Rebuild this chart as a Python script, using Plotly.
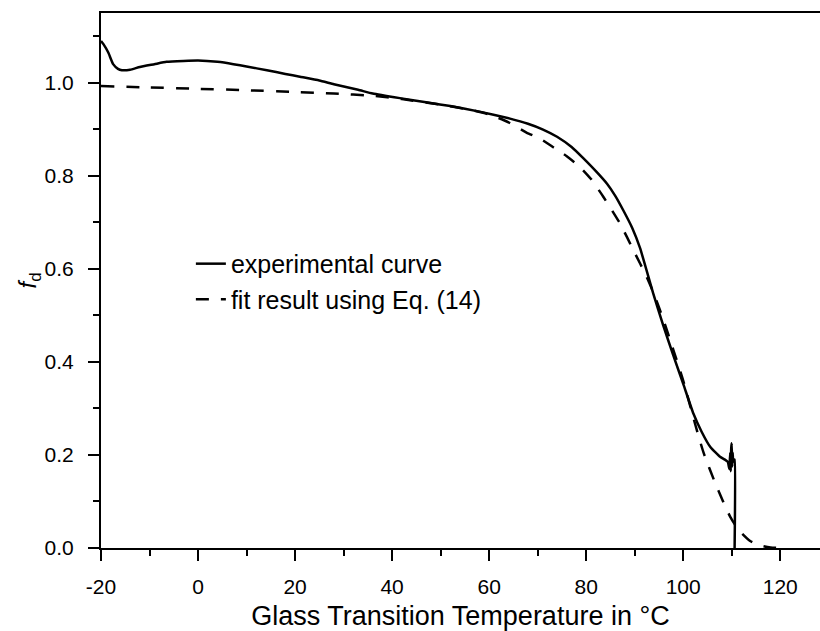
import plotly.graph_objects as go

# Experimental curve (solid)
x_exp = [-20, -19.5, -18.5, -17.5, -16.5, -15.7, -14, -12, -9, -6.5, -3, 0, 4, 7.3, 10,
         14.2, 18, 21, 25, 28, 33, 36, 41.6, 47, 52, 58, 64.3, 68, 71, 74, 77, 79.4,
         82, 84.3, 86, 87.7, 89.5, 91.1, 93.8, 95.9, 98, 100.1, 102.1, 103.8, 105.6,
         107.6, 108.6, 109.2, 109.5, 109.7, 109.8, 109.9, 110.0, 110.1, 110.2, 110.3,
         110.45, 110.6, 110.6]
y_exp = [1.090, 1.083, 1.065, 1.040, 1.030, 1.027, 1.028, 1.034, 1.040, 1.045, 1.047,
         1.048, 1.045, 1.040, 1.035, 1.027, 1.019, 1.013, 1.005, 0.997, 0.985, 0.977,
         0.967, 0.958, 0.950, 0.938, 0.923, 0.912, 0.900, 0.884, 0.862, 0.838, 0.810,
         0.783, 0.757, 0.725, 0.688, 0.645, 0.548, 0.478, 0.413, 0.350, 0.289, 0.250,
         0.217, 0.196, 0.190, 0.185, 0.170, 0.205, 0.165, 0.215, 0.225, 0.175, 0.205,
         0.185, 0.190, 0.190, 0.0]

# Fit result using Eq. (14) (dashed)
x_fit = [-20, -10, 0, 10, 20, 28, 36, 42, 50, 56, 60, 64, 67.7, 70.5, 73.3, 76, 78.8,
         81, 83.6, 87, 89.8, 92.5, 94.2, 96, 98, 100, 102.5, 104.2, 106.9, 109.7, 111.5,
         113.8, 116, 118, 120]
y_fit = [0.993, 0.990, 0.987, 0.984, 0.980, 0.977, 0.972, 0.965, 0.953, 0.942, 0.932,
         0.915, 0.893, 0.880, 0.861, 0.842, 0.818, 0.793, 0.754, 0.697, 0.639, 0.582,
         0.540, 0.488, 0.425, 0.360, 0.265, 0.205, 0.132, 0.067, 0.038, 0.015, 0.005,
         0.001, 0.0]

x_ticks = [-20, 0, 20, 40, 60, 80, 100, 120]
y_ticks = [0.0, 0.2, 0.4, 0.6, 0.8, 1.0]

FONT = "Liberation Sans, Arial, Helvetica, sans-serif"

fig = go.Figure()
fig.add_trace(go.Scatter(x=x_exp, y=y_exp, mode="lines", name="experimental curve",
                         line=dict(color="black", width=2.5, shape="spline", smoothing=0.4)))
fig.add_trace(go.Scatter(x=x_fit, y=y_fit, mode="lines", name="fit result using Eq. (14)",
                         line=dict(color="black", width=2.5, dash="13px,12px",
                                   shape="spline", smoothing=0.6)))

fig.update_layout(
    width=820, height=631,
    margin=dict(l=101, r=0, t=13, b=83),
    paper_bgcolor="white", plot_bgcolor="white",
    font=dict(family=FONT, color="black", size=21),
    showlegend=True,
    legend=dict(x=0.125, y=0.574, xanchor="left", yanchor="top",
                bgcolor="rgba(0,0,0,0)", borderwidth=0,
                font=dict(size=25, family=FONT), tracegroupgap=0),
    xaxis=dict(range=[-20, 128.2], tickvals=x_ticks, ticktext=[str(v) for v in x_ticks],
               showgrid=False, zeroline=False, showline=True, linecolor="black",
               linewidth=2, mirror=True, ticks="outside", ticklen=11, tickwidth=2,
               tickcolor="black", tickfont=dict(size=21), ticklabelstandoff=8,
               minor=dict(dtick=10, tick0=-20, ticks="outside", ticklen=6, tickwidth=2,
                          tickcolor="black", showgrid=False),
               title=dict(text="Glass Transition Temperature in °C",
                          font=dict(size=27), standoff=10)),
    yaxis=dict(range=[0, 1.15], tickvals=y_ticks, ticktext=["%.1f" % v for v in y_ticks],
               showgrid=False, zeroline=False, showline=True, linecolor="black",
               linewidth=2, ticks="outside", ticklen=11, tickwidth=2, tickcolor="black",
               tickfont=dict(size=21), ticklabelstandoff=10,
               minor=dict(dtick=0.1, tick0=0, ticks="outside", ticklen=6, tickwidth=2,
                          tickcolor="black", showgrid=False),
               title=dict(text="<i>f</i><sub>d</sub>", font=dict(size=24), standoff=1)),
)

fig.write_html("out.html")
